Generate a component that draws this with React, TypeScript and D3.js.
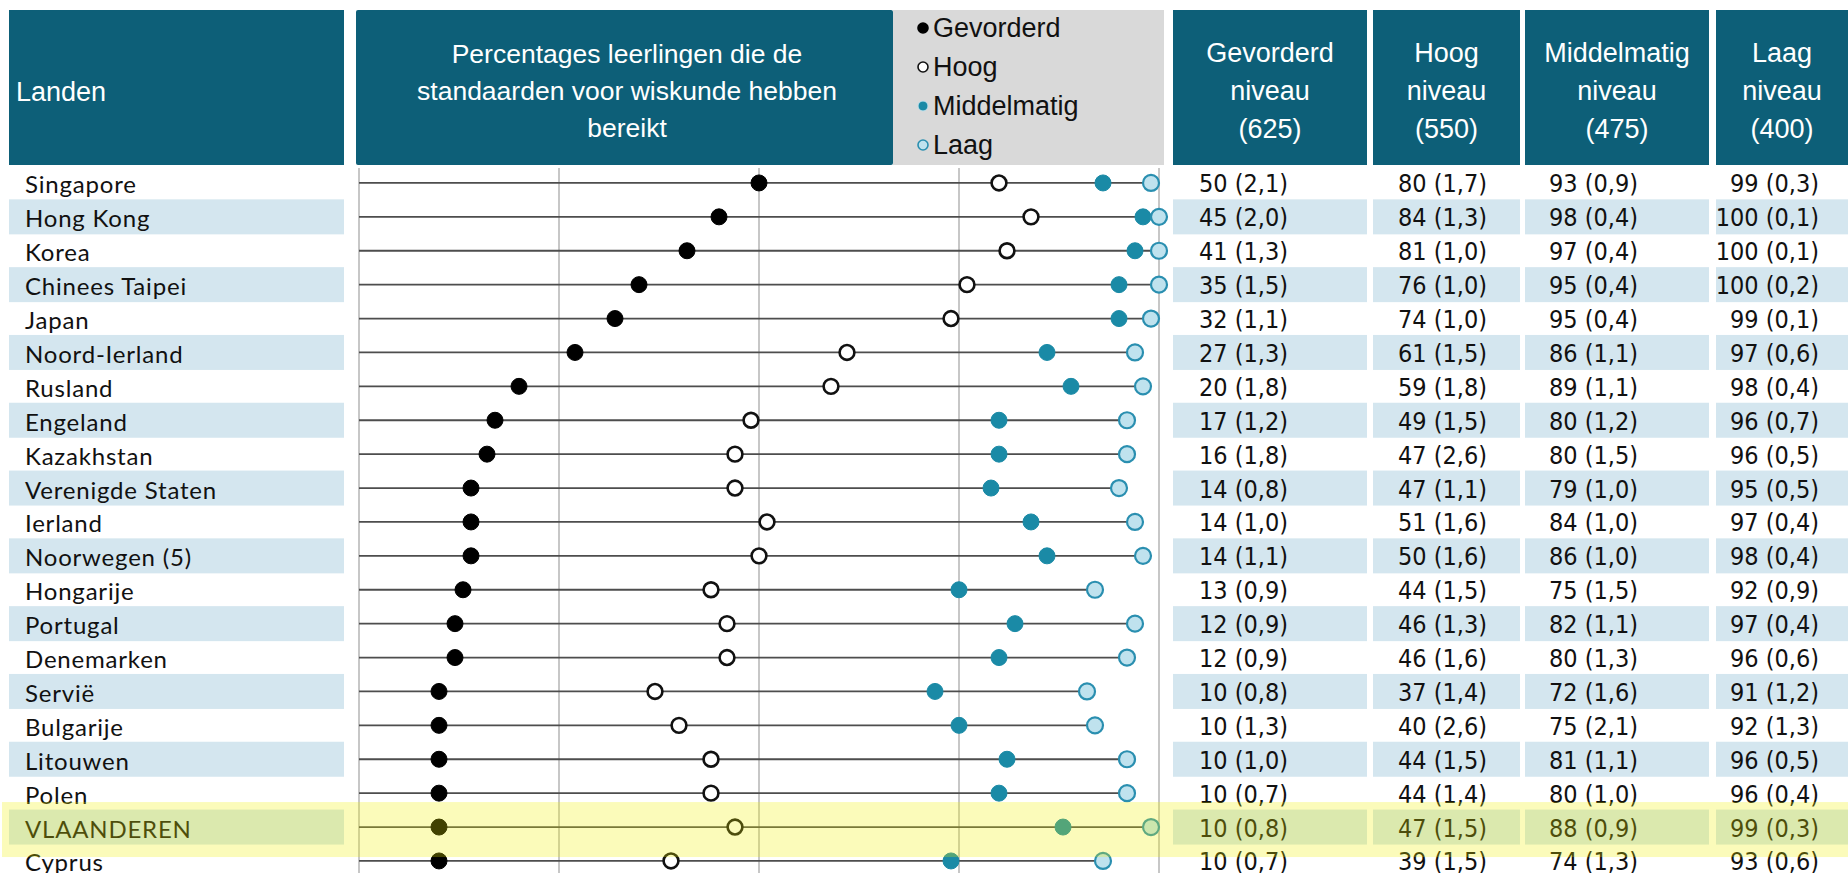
import React from 'react';
import * as d3 from 'd3';

// data
const countries = [
  'Singapore', 'Hong Kong', 'Korea', 'Chinees Taipei', 'Japan', 'Noord-Ierland', 'Rusland',
  'Engeland', 'Kazakhstan', 'Verenigde Staten', 'Ierland', 'Noorwegen (5)', 'Hongarije',
  'Portugal', 'Denemarken', 'Servië', 'Bulgarije', 'Litouwen', 'Polen', 'VLAANDEREN', 'Cyprus'
];
const gevorderd = [50, 45, 41, 35, 32, 27, 20, 17, 16, 14, 14, 14, 13, 12, 12, 10, 10, 10, 10, 10, 10];
const gevorderdSe = [2.1, 2.0, 1.3, 1.5, 1.1, 1.3, 1.8, 1.2, 1.8, 0.8, 1.0, 1.1, 0.9, 0.9, 0.9, 0.8, 1.3, 1.0, 0.7, 0.8, 0.7];
const hoog = [80, 84, 81, 76, 74, 61, 59, 49, 47, 47, 51, 50, 44, 46, 46, 37, 40, 44, 44, 47, 39];
const hoogSe = [1.7, 1.3, 1.0, 1.0, 1.0, 1.5, 1.8, 1.5, 2.6, 1.1, 1.6, 1.6, 1.5, 1.3, 1.6, 1.4, 2.6, 1.5, 1.4, 1.5, 1.5];
const middelmatig = [93, 98, 97, 95, 95, 86, 89, 80, 80, 79, 84, 86, 75, 82, 80, 72, 75, 81, 80, 88, 74];
const middelmatigSe = [0.9, 0.4, 0.4, 0.4, 0.4, 1.1, 1.1, 1.2, 1.5, 1.0, 1.0, 1.0, 1.5, 1.1, 1.3, 1.6, 2.1, 1.1, 1.0, 0.9, 1.3];
const laag = [99, 100, 100, 100, 99, 97, 98, 96, 96, 95, 97, 98, 92, 97, 96, 91, 92, 96, 96, 99, 93];
const laagSe = [0.3, 0.1, 0.1, 0.2, 0.1, 0.6, 0.4, 0.7, 0.5, 0.5, 0.4, 0.4, 0.9, 0.4, 0.6, 1.2, 1.3, 0.5, 0.4, 0.3, 0.6];
const levelNames = ['Gevorderd', 'Hoog', 'Middelmatig', 'Laag'];
const levelScores = [625, 550, 475, 400];
const gridTicks = [0, 25, 50, 75, 100];
const highlight = 'VLAANDEREN';

const WIDTH = 1848;
const HEIGHT = 873;
const TEAL = '#0d5f78';
const BAND = '#d4e6ef';
const HEAD_FONT = "'Liberation Sans', Arial, sans-serif";
const LABEL_FONT = "Lato, 'Open Sans', sans-serif";
const NUM_FONT = "'Liberation Sans Narrow', 'DejaVu Sans Condensed', sans-serif";

const dotStyles = [
  { fill: '#000000', stroke: '#000000', sw: 1 },
  { fill: '#ffffff', stroke: '#111111', sw: 2.6 },
  { fill: '#1a8aa6', stroke: '#1a8aa6', sw: 1 },
  { fill: '#bfe2ee', stroke: '#2a8fb0', sw: 2.2 }
];

// table columns: box extent and right edge of the numbers
const tableCols = [
  { x0: 1173, x1: 1367, right: 1288 },
  { x0: 1373, x1: 1520, right: 1487 },
  { x0: 1525, x1: 1709, right: 1638 },
  { x0: 1716, x1: 1848, right: 1819 }
];

const fmt = (v: number, se: number) => `${v} (${se.toFixed(1).replace('.', ',')})`;

export default function App() {
  const series = [
    { values: gevorderd, se: gevorderdSe },
    { values: hoog, se: hoogSe },
    { values: middelmatig, se: middelmatigSe },
    { values: laag, se: laagSe }
  ];

  const x = d3.scaleLinear().domain([0, 100]).range([359, 1159]);
  const y = d3.scaleBand().domain(countries).range([166, 166 + 33.9 * countries.length]);
  const cy = (c: string) => (y(c) as number) + y.bandwidth() / 2;

  const headTop = 10;
  const headBottom = 165;

  return (
    <svg width={WIDTH} height={HEIGHT} style={{ position: 'absolute', left: 0, top: 0, background: '#fff' }}>
      {/* header boxes */}
      <rect x={9} y={headTop} width={335} height={headBottom - headTop} fill={TEAL} />
      <text x={16} y={92} fill="#fff" fontFamily={HEAD_FONT} fontSize={27} dominantBaseline="central">Landen</text>

      <rect x={356} y={headTop} width={537} height={headBottom - headTop} fill={TEAL} rx={2} />
      {['Percentages leerlingen die de', 'standaarden voor wiskunde hebben', 'bereikt'].map((t, i) => (
        <text key={t} x={627} y={54 + i * 37} fill="#fff" fontFamily={HEAD_FONT} fontSize={26.5}
          textAnchor="middle" dominantBaseline="central">{t}</text>
      ))}

      <rect x={893} y={headTop} width={271} height={headBottom - headTop} fill="#d9d9d9" />
      {levelNames.map((name, i) => {
        const ly = 28 + i * 39;
        const s = dotStyles[i];
        return (
          <g key={name}>
            <circle cx={923} cy={ly} r={5} fill={s.fill} stroke={i === 2 ? '#bfe2ee' : s.stroke}
              strokeWidth={i === 2 ? 1 : 1.6} />
            <text x={933} y={ly} fontFamily={HEAD_FONT} fontSize={27} fill="#111" dominantBaseline="central">{name}</text>
          </g>
        );
      })}

      {tableCols.map((c, i) => (
        <g key={levelNames[i]}>
          <rect x={c.x0} y={headTop} width={c.x1 - c.x0} height={headBottom - headTop} fill={TEAL} />
          {[levelNames[i], 'niveau', `(${levelScores[i]})`].map((t, j) => (
            <text key={j} x={(c.x0 + c.x1) / 2} y={53 + j * 38} fill="#fff" fontFamily={HEAD_FONT}
              fontSize={27} textAnchor="middle" dominantBaseline="central">{t}</text>
          ))}
        </g>
      ))}

      {/* row bands */}
      {countries.map((c, i) => i % 2 === 1 && (
        <g key={c}>
          <rect x={9} y={cy(c) - 17.5} width={335} height={35} fill={BAND} />
          {tableCols.map((col, j) => (
            <rect key={j} x={col.x0} y={cy(c) - 17.5} width={col.x1 - col.x0} height={35} fill={BAND} />
          ))}
        </g>
      ))}

      {/* grid */}
      {gridTicks.map(t => (
        <line key={t} x1={x(t)} x2={x(t)} y1={168} y2={HEIGHT} stroke="#8f8f8f" strokeWidth={1} />
      ))}

      {/* rows */}
      {countries.map((c, i) => (
        <g key={c}>
          <line x1={x(0)} x2={x(laag[i])} y1={cy(c)} y2={cy(c)} stroke="#4d4d4d" strokeWidth={1.8} />
          {series.map((s, j) => (
            <circle key={j} cx={x(s.values[i])} cy={cy(c)} r={j === 1 ? 7.4 : 8}
              fill={dotStyles[j].fill} stroke={dotStyles[j].stroke} strokeWidth={dotStyles[j].sw} />
          ))}
          <text x={25} y={cy(c) + 1} fontFamily={LABEL_FONT} fontSize={24} letterSpacing={0.8}
            fill="#111" dominantBaseline="central">{c}</text>
          {series.map((s, j) => (
            <text key={j} x={tableCols[j].right} y={cy(c) + 1} fontFamily={NUM_FONT} fontSize={25}
              fill="#111" textAnchor="end" dominantBaseline="central">{fmt(s.values[i], s.se[i])}</text>
          ))}
        </g>
      ))}

      {/* highlight of Vlaanderen */}
      <rect x={2} y={cy(highlight) - 25} width={WIDTH - 2} height={55} fill="#f2f200" opacity={0.27} />
    </svg>
  );
}
